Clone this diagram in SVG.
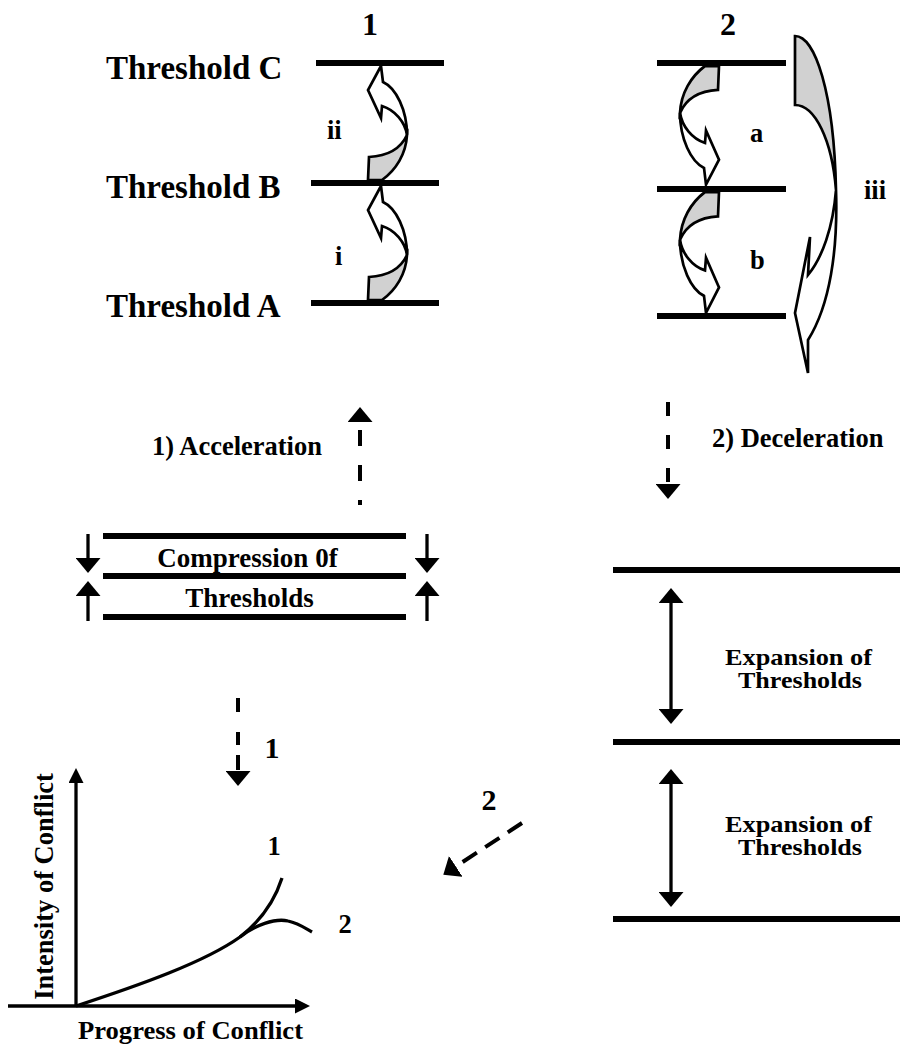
<svg xmlns="http://www.w3.org/2000/svg" width="909" height="1046" viewBox="0 0 909 1046">
  <defs>
    <style>
      .t{font-family:"Liberation Serif","Times New Roman",serif;font-weight:bold;fill:#000}
      .thr{stroke:#000;stroke-width:6;fill:none}
      .shade{fill:#d1d1d1;stroke:#000;stroke-width:2.7;stroke-linejoin:miter;stroke-miterlimit:8}
      .band{fill:#fff;stroke:#000;stroke-width:2.7;stroke-linejoin:miter;stroke-miterlimit:8}
      .dash{stroke:#000;stroke-width:4;fill:none}
      .shaft{stroke:#000;stroke-width:3.3;fill:none}
    </style>
    <marker id="tri" viewBox="0 0 15 25" refX="1" refY="12.5" markerWidth="15" markerHeight="25" markerUnits="userSpaceOnUse" orient="auto-start-reverse">
      <path d="M0,0 L15,12.5 L0,25 Z"/>
    </marker>
    <marker id="axis" viewBox="0 0 15 15" refX="1" refY="7.5" markerWidth="15" markerHeight="15" markerUnits="userSpaceOnUse" orient="auto">
      <path d="M0,0 L15,7.5 L0,15 Z"/>
    </marker>
    <!-- curved step arrow, base at the origin, pointing up -->
    <g id="curl">
      <path class="shade" d="M39,-45 C33,-32 20,-24 1,-23 L0,0 L14,0 C28,-10 38,-26 39,-45 Z"/>
      <path class="band" d="M13,-114 L0,-90 L13,-62 L14,-74 C27,-70 37,-58 39,-45 C39,-70 28,-92 15,-98 Z"/>
    </g>
  </defs>

  <rect width="909" height="1046" fill="#fff"/>

  <!-- panel 1: thresholds crossed upward -->
  <g id="panel1">
    <text class="t" x="370" y="35" font-size="32" text-anchor="middle">1</text>
    <line class="thr" x1="316" y1="63" x2="444" y2="63"/>
    <line class="thr" x1="311" y1="183" x2="439" y2="183"/>
    <line class="thr" x1="311" y1="303" x2="439" y2="303"/>
    <text class="t" x="106" y="79" font-size="33">Threshold C</text>
    <text class="t" x="106" y="198" font-size="33">Threshold B</text>
    <text class="t" x="106" y="317" font-size="33">Threshold A</text>
  </g>
  <g id="step-ii">
    <use href="#curl" transform="translate(368,180)"/>
    <text class="t" x="327" y="139" font-size="26.5">ii</text>
  </g>
  <g id="step-i">
    <use href="#curl" transform="translate(368,300)"/>
    <text class="t" x="335" y="265" font-size="26.5">i</text>
  </g>

  <!-- panel 2: thresholds crossed downward -->
  <g id="panel2">
    <text class="t" x="728" y="35" font-size="32" text-anchor="middle">2</text>
    <line class="thr" x1="657" y1="63" x2="786" y2="63"/>
    <line class="thr" x1="657" y1="189" x2="786" y2="189"/>
    <line class="thr" x1="657" y1="316" x2="786" y2="316"/>
  </g>
  <g id="step-a">
    <use href="#curl" transform="translate(719,66) rotate(180) scale(1,1.04)"/>
    <text class="t" x="750" y="142" font-size="26.5">a</text>
  </g>
  <g id="step-b">
    <use href="#curl" transform="translate(719,192) rotate(180) scale(1,1.06)"/>
    <text class="t" x="750" y="269" font-size="26.5">b</text>
  </g>
  <g id="step-iii">
    <path class="shade" d="M795,36 C815,36 834,92 836,190 C832,140 815,105 795,105 Z"/>
    <path class="band" d="M836,190 C838,250 830,305 808,340 L808,373 L795,313 L810,237 L808,275 C822,258 833,228 836,190 Z"/>
    <text class="t" x="864" y="199" font-size="26.5">iii</text>
  </g>

  <!-- transition labels -->
  <g id="acceleration">
    <text class="t" x="152" y="455" font-size="26.5">1) Acceleration</text>
  </g>
  <g id="deceleration">
    <text class="t" x="712" y="447" font-size="26.5">2) Deceleration</text>
  </g>

  <!-- compressed thresholds -->
  <g id="compression">
    <line class="thr" x1="103" y1="536" x2="406" y2="536"/>
    <line class="thr" x1="103" y1="576" x2="406" y2="576"/>
    <line class="thr" x1="103" y1="617" x2="406" y2="617"/>
    <line class="shaft" x1="88" y1="534" x2="88" y2="559" marker-end="url(#tri)"/>
    <line class="shaft" x1="88" y1="621" x2="88" y2="595" marker-end="url(#tri)"/>
    <line class="shaft" x1="427" y1="534" x2="427" y2="559" marker-end="url(#tri)"/>
    <line class="shaft" x1="427" y1="621" x2="427" y2="595" marker-end="url(#tri)"/>
    <text class="t" x="247.5" y="567" font-size="27" text-anchor="middle">Compression 0f</text>
    <text class="t" x="249.5" y="607" font-size="27" text-anchor="middle">Thresholds</text>
  </g>

  <!-- expanded thresholds -->
  <g id="expansion">
    <line class="thr" x1="613" y1="570" x2="900" y2="570"/>
    <line class="thr" x1="613" y1="742" x2="900" y2="742"/>
    <line class="thr" x1="613" y1="919" x2="900" y2="919"/>
    <line class="shaft" x1="671" y1="602" x2="671" y2="710" stroke-width="3" marker-start="url(#tri)" marker-end="url(#tri)"/>
    <line class="shaft" x1="671" y1="783" x2="671" y2="893" stroke-width="3" marker-start="url(#tri)" marker-end="url(#tri)"/>
    <text class="t" x="725" y="665" font-size="23" textLength="147" lengthAdjust="spacingAndGlyphs">Expansion of</text>
    <text class="t" x="738" y="688" font-size="23" textLength="124" lengthAdjust="spacingAndGlyphs">Thresholds</text>
    <text class="t" x="725" y="832" font-size="23" textLength="147" lengthAdjust="spacingAndGlyphs">Expansion of</text>
    <text class="t" x="738" y="855" font-size="23" textLength="124" lengthAdjust="spacingAndGlyphs">Thresholds</text>
  </g>

  <!-- intensity over progress -->
  <g id="graph">
    <line class="shaft" x1="76" y1="1007" x2="76" y2="782" marker-end="url(#axis)"/>
    <line class="shaft" x1="8" y1="1006" x2="296" y2="1006" marker-end="url(#axis)"/>
    <path class="shaft" d="M76,1006 C140,985 205,962 240,937 C262,920 275,900 282,878"/>
    <path class="shaft" d="M240,937 C255,925 275,918 288,921 C298,923 305,928 312,932"/>
    <text class="t" x="274" y="855" font-size="26.5" text-anchor="middle">1</text>
    <text class="t" x="345" y="933" font-size="26.5" text-anchor="middle">2</text>
    <text class="t" transform="translate(53,886.5) rotate(-90)" font-size="26.5" text-anchor="middle">Intensity of Conflict</text>
    <text class="t" x="78" y="1039" font-size="25" textLength="225" lengthAdjust="spacingAndGlyphs">Progress of Conflict</text>
  </g>

  <!-- dashed flow arrows -->
  <g id="connectors">
    <line class="dash" x1="360" y1="505" x2="360" y2="421" stroke-dasharray="16 19" stroke-dashoffset="11" marker-end="url(#tri)"/>
    <line class="dash" x1="668" y1="402" x2="668" y2="485" stroke-dasharray="14 19" marker-end="url(#tri)"/>
    <line class="dash" x1="238" y1="698" x2="238" y2="772" stroke-dasharray="14 20 13 10 15 30" marker-end="url(#tri)"/>
    <line class="dash" x1="522" y1="823" x2="455" y2="867" stroke-dasharray="17 10" marker-end="url(#tri)"/>
    <text class="t" x="272" y="758" font-size="30" text-anchor="middle">1</text>
    <text class="t" x="489" y="810" font-size="30" text-anchor="middle">2</text>
  </g>
</svg>
